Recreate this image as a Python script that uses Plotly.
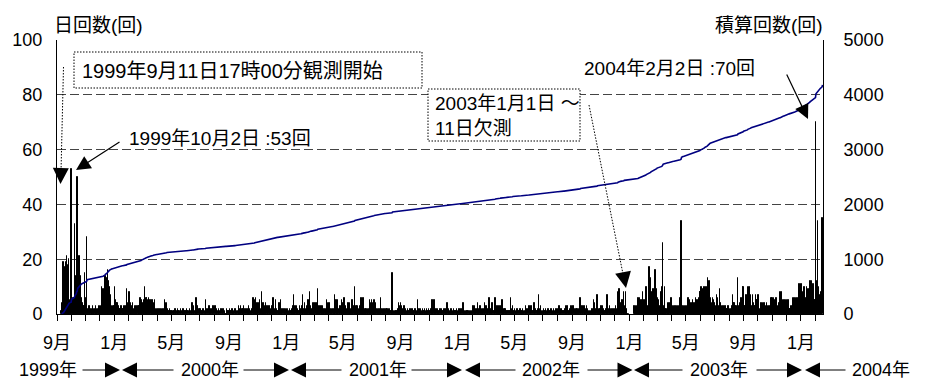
import pandas as pd
import numpy as np
import plotly.graph_objects as go

# ---------------- data: daily counts (回) ----------------
# 1999: starts 1999-09-11 (observation start)
cnt_1999 = [
    [1,4,3,2,19,12,17,9,14,19,15,21,11,18,8,20,6,4,5,3],                      # Sep 11-30
    [5,53,8,4,6,3,5,6,33,12,9,14,38,10,50,12,9,6,21,8,14,5,6,3,4,2,3,3,2,3,15],  # Oct
    [6,3,4,28,2,1,0,2,3,1,2,0,1,2,1,0,3,1,2,1,0,2,3,1,2,1,0,2,3,1],            # Nov
    [2,3,1,3,2,10,2,3,9,3,2,7,14,4,11,3,13,16,8,12,2,10,7,3,7,2,3,1,3,2,3],    # Dec
]
cnt_2000 = [
    [3,10,2,5,1,4,1,4,1,3,2,1,2,2,1,3,0,2,2,1,2,3,1,2,3,1,2,9,2,4,1],
    [5,8,2,3,1,4,2,1,3,4,1,2,0,3,2,1,3,1,2,0,3,1,2,3,1,6,2,5,3],
    [4,3,1,5,4,10,2,5,6,3,6,1,5,1,6,1,4,5,0,3,1,5,1,3,4,1,5,0,1,2,1],
    [2,1,1,2,1,1,0,2,1,1,2,1,1,0,2,1,1,5,2,4,3,4,1,2,1,0,1,2,1,1],
    [1,0,1,1,0,0,1,1,0,2,1,0,0,1,2,0,1,0,1,0,0,2,1,0,0,1,2,1,0,1,1],
    [1,0,0,2,1,0,1,0,0,2,1,0,0,1,4,0,1,3,0,1,0,0,2,6,1,3,0,1,0,2],
    [1,2,0,1,0,1,0,1,2,0,0,1,0,5,1,0,2,0,1,0,3,0,1,0,1,2,0,0,1,3,0],
    [2,0,3,0,1,0,2,0,0,1,2,0,0,1,0,2,0,0,1,2,0,0,0,1,0,0,0,2,1,0,1],
    [1,0,2,1,0,1,0,2,0,1,0,1,0,0,2,1,0,1,0,0,1,3,0,1,2,0,3,1,0,2],
    [2,0,3,1,0,2,0,1,0,2,1,0,3,1,0,2,0,1,0,1,2,0,6,1,3,5,2,6,1,4,2],
    [3,1,4,0,2,5,1,2,0,8,3,1,4,0,2,1,3,0,4,1,0,3,1,2,0,3,1,0,2,1],
    [2,0,3,1,6,1,0,2,1,5,0,2,1,0,1,2,4,0,1,2,5,0,1,2,0,1,0,2,1,0,2],
]
cnt_2001 = [
    [1,2,0,1,2,0,1,0,2,1,0,1,2,0,1,3,7,2,0,1,3,0,1,3,0,2,1,0,1,3,1],
    [1,2,0,3,7,1,2,0,1,4,0,2,1,3,0,1,5,0,2,8,1,3,2,0,1,2,4,1],
    [2,4,1,3,0,4,2,1,9,2,0,1,3,1,2,0,3,1,2,3,0,1,2,0,1,2,1,0,5,2,4],
    [3,1,4,0,2,1,0,2,1,0,2,1,0,7,1,2,0,5,2,3,5,1,0,2,1,3,0,1,2,5],
    [4,2,1,1,6,2,0,3,1,2,0,2,4,1,3,2,4,1,2,0,3,5,1,2,0,3,10,2,2,3,3],
    [2,1,3,0,2,1,3,0,1,6,2,4,1,6,2,0,1,2,0,1,2,0,1,2,1,0,2,5,3,4],
    [3,5,2,4,1,5,3,2,5,1,4,2,0,1,2,0,1,2,1,0,6,1,2,0,1,2,0,1,2,1,0],
    [1,2,0,2,1,0,2,1,0,2,1,0,1,2,15,1,0,1,0,1,0,1,1,0,1,0,1,2,4,1,3],
    [2,4,1,3,0,1,2,0,3,1,0,1,2,0,1,0,2,1,0,1,0,2,1,0,1,2,0,1,0,1],
    [1,0,2,1,0,1,0,5,1,0,2,1,0,1,2,0,1,0,2,1,0,1,2,0,1,0,2,1,0,1,0],
    [2,0,1,1,0,2,1,5,1,3,0,5,2,1,0,1,2,0,1,2,0,1,1,0,2,1,0,2,1,0],
    [1,0,2,1,0,2,1,0,1,4,0,1,2,0,1,0,1,2,0,1,0,1,0,2,1,0,1,0,1,2,0],
]
cnt_2002 = [
    [1,0,1,2,0,1,0,1,2,0,1,0,4,1,0,1,0,1,0,1,0,1,0,1,0,0,1,0,1,0,1],
    [0,1,3,0,2,1,3,0,1,2,0,1,4,0,1,2,0,3,1,0,2,1,0,1,2,0,1,4],
    [1,0,3,1,0,1,2,0,6,1,2,0,1,0,1,4,0,1,0,1,2,6,0,3,1,0,1,3,0,2,1],
    [1,3,0,1,0,5,1,0,1,2,0,2,1,0,1,0,1,0,1,0,1,0,1,6,0,2,1,3,0,1],
    [1,0,2,0,1,0,1,2,0,1,0,1,0,2,1,0,1,0,1,2,0,1,0,0,1,3,0,1,2,0,1],
    [0,3,1,0,2,1,3,0,1,0,1,0,4,1,2,0,1,0,1,2,0,1,7,0,2,1,3,0,1,0],
    [1,0,2,1,0,1,0,2,0,1,0,1,2,0,1,0,1,0,2,1,0,0,1,0,2,0,1,0,1,2,0],
    [1,0,2,0,3,1,0,1,0,2,0,1,0,1,0,1,0,2,3,0,1,3,0,1,0,1,0,2,0,3,1],
    [3,1,2,3,0,1,2,0,1,2,0,1,2,1,0,2,1,0,6,1,2,0,3,1,2,0,3,1,2,1],
    [2,0,3,1,2,0,1,0,1,0,1,0,1,2,0,1,0,5,1,4,0,1,2,0,7,1,0,2,1,0,2],
    [2,1,3,0,2,3,1,2,0,1,1,0,2,1,7,1,0,2,0,1,3,0,2,1,0,2,1,0,1,2],
    [1,0,3,1,0,2,1,8,0,2,9,1,4,0,1,2,5,0,1,2,8,1,3,0,8,2,1,0,0,0,0],
]
# 2003-01-01 ~ 01-11: missing observation (欠測)
cnt_2003 = [
    [None]*11 + [3,1,2,3,2,3,1,2,6,3,5,2,6,4,3,5,2,4,8,3],
    [2,5,1,3,2,10,3,6,2,1,3,1,17,3,2,13,4,2,8,3,9,2,4,1,3,16,1,4],
    [9,2,6,1,5,2,1,3,1,8,2,10,26,4,3,1,2,10,2,1,2,0,1,4,2,1,4,0,2,1,3],
    [6,2,1,3,2,3,1,2,3,1,2,3,1,3,2,1,3,2,1,6,4,34,10,3,2,1,3,2,3,1],
    [3,2,1,3,2,1,6,2,2,5,3,3,4,2,3,5,2,1,3,4,2,3,6,2,3,5,2,2,6,3,8],
    [8,3,10,5,2,2,3,9,3,10,2,7,2,10,3,6,13,5,8,12,4,8,3,6,2,4,3,6,2,5],
    [4,3,2,3,1,7,3,6,2,2,1,3,9,4,3,2,3,1,2,3,1,0,2,1,3,0,2,1,2,0,3],
    [2,1,2,0,1,2,1,3,7,2,3,4,4,2,2,3,3,1,2,13,3,2,2,4,3,3,2,6,3,3,10],
    [10,2,2,3,3,2,7,3,1,10,2,2,3,10,3,2,7,3,2,2,7,1,4,3,2,3,7,2,2,5],
    [5,2,7,3,1,2,0,3,4,1,2,4,1,3,2,4,1,2,3,1,4,2,3,1,2,3,1,2,0,6,3],
    [3,6,2,4,6,1,3,5,2,6,4,1,3,2,1,4,8,3,6,2,8,4,3,5,2,1,5,3,2,5],
    [3,5,2,4,1,5,3,2,1,2,3,2,1,3,6,2,4,6,3,5,2,6,4,1,6,3,2,5,11,4,8],
]
cnt_2004 = [
    [6,11,4,7,8,3,5,2,10,4,6,3,5,10,4,9,5,7,9,4,12,6,3,5,12,4,6,11,10,3,5],
    [5,70,12,8,6,34,9,6,10,7,4,6,5,8,12,35],                                   # Feb 1-16
]

# (year, first month, first day of first month, monthly lists)
year_blocks = [
    (1999, 9, 11, cnt_1999),
    (2000, 1, 1, cnt_2000),
    (2001, 1, 1, cnt_2001),
    (2002, 1, 1, cnt_2002),
    (2003, 1, 1, cnt_2003),
    (2004, 1, 1, cnt_2004),
]

x_tick_labels = ["9月", "1月", "5月"]
year_labels = ["1999年", "2000年", "2001年", "2002年", "2003年", "2004年"]

# ---------------- build series ----------------
dates, daily = [], []
for yr, m0, d0, months in year_blocks:
    for i, mv in enumerate(months):
        first = pd.Timestamp(year=yr, month=m0 + i, day=d0 if i == 0 else 1)
        for k, v in enumerate(mv):
            dates.append(first + pd.Timedelta(days=k))
            daily.append(v)

cumulative = np.cumsum([0 if v is None else v for v in daily])

x_start = pd.Timestamp("1999-09-01")
x_end = pd.Timestamp("2004-02-17")
tick_dates = list(pd.date_range(x_start, "2004-01-01", freq="4MS"))
tick_text = [x_tick_labels[i % 3] for i in range(len(tick_dates))]

FONT = "Liberation Sans, Arial, 'Noto Sans CJK JP', sans-serif"
W, H = 929, 381
PL, PR, PT, PB = 57, 823, 40, 314


def px(x):
    return (x - PL) / (PR - PL)


def py(y):
    return (PB - y) / (PB - PT)


fig = go.Figure()
fig.add_trace(go.Bar(
    x=dates, y=daily, marker=dict(color="black", line=dict(width=1.0, color="black")),
    width=86400000, showlegend=False, hoverinfo="skip",
))
fig.add_trace(go.Scatter(
    x=dates, y=cumulative, yaxis="y2", mode="lines",
    line=dict(color="#000080", width=1.6), showlegend=False, hoverinfo="skip",
))

annotations = []
shapes = []


def text(t, x, y, xanchor="left", size=19):
    annotations.append(dict(
        text=t, x=px(x), y=py(y), xref="paper", yref="paper",
        xanchor=xanchor, yanchor="middle", showarrow=False, align="left",
        font=dict(family=FONT, size=size, color="black"),
    ))


def arrow(tail, tip, width=1.0, size=2.5):
    annotations.append(dict(
        text="", x=px(tip[0]), y=py(tip[1]), xref="paper", yref="paper",
        ax=tail[0] - tip[0], ay=tail[1] - tip[1], showarrow=True,
        arrowhead=2, arrowsize=size, arrowwidth=width, arrowcolor="black",
        standoff=0,
    ))


def dotted_line(p0, p1):
    shapes.append(dict(
        type="line", xref="paper", yref="paper",
        x0=px(p0[0]), y0=py(p0[1]), x1=px(p1[0]), y1=py(p1[1]),
        line=dict(color="black", width=1, dash="1.5px,1.5px"),
    ))


def dotted_box(x0, y0, x1, y1):
    shapes.append(dict(
        type="rect", xref="paper", yref="paper",
        x0=px(x0), y0=py(y0), x1=px(x1), y1=py(y1),
        line=dict(color="black", width=1, dash="1.5px,1.5px"),
        fillcolor="white", layer="above",
    ))


# axis titles
text("日回数(回)", 98.5, 25, "center", 19)
text("積算回数(回)", 768.5, 25, "center", 19)

# observation start box + dotted arrow
dotted_box(74, 52, 422, 88)
text("1999年9月11日17時00分観測開始", 80, 71, "left", 20)
dotted_line((63.5, 67), (61, 172))
arrow((60.8, 170), (60.5, 184), 1.0, 3.2)

# 53 annotation
text("1999年10月2日 :53回", 127, 138)
arrow((121, 141), (76, 170), 1.2, 2.4)

# missing-data box + dotted arrow
dotted_box(428, 89, 580, 141)
text("2003年1月1日 ～<br>11日欠測", 433, 116.5)
dotted_line((589, 105), (623, 274))
arrow((623, 272), (626, 288), 1.0, 3.2)

# 70 annotation
text("2004年2月2日 :70回", 757, 68, "right")
arrow((786, 73), (808, 119), 1.2, 2.4)

# year row
yr_y = 370
yr_centers = [48, 210, 377.5, 551, 719, 881]
for lab, cx in zip(year_labels, yr_centers):
    text(lab, cx, yr_y, "center", 18)
for tail, tip in [(81, 120), (175, 122), (242, 289), (343, 291), (410, 462),
                  (517, 465), (586, 632.5), (684, 634), (755, 802), (847, 805)]:
    arrow((tail, yr_y), (tip, yr_y), 1.0, 3.0)

fig.update_layout(
    width=W, height=H,
    margin=dict(l=PL, r=W - PR, t=PT, b=H - PB),
    paper_bgcolor="white", plot_bgcolor="white",
    bargap=0, showlegend=False,
    font=dict(family=FONT, size=18, color="black"),
    xaxis=dict(
        type="date", range=[x_start, x_end],
        tickmode="array", tickvals=tick_dates, ticktext=tick_text,
        ticks="outside", ticklen=6, tickcolor="black", tickwidth=1,
        minor=dict(ticks="outside", ticklen=6, tickcolor="black", tickwidth=1,
                   dtick="M1", tick0="1999-09-01", showgrid=False),
        showline=True, linecolor="black", linewidth=1,
        showgrid=False, zeroline=False,
        tickfont=dict(size=18), ticklabelstandoff=6,
    ),
    yaxis=dict(
        range=[0, 100], tickmode="linear", tick0=0, dtick=20,
        showgrid=True, gridcolor="#444444", gridwidth=1, griddash="9px,4px",
        showline=True, linecolor="black", linewidth=1,
        ticks="", zeroline=False, tickfont=dict(size=18),
        ticklabelstandoff=10,
    ),
    yaxis2=dict(
        range=[0, 5000], tickmode="linear", tick0=0, dtick=1000,
        overlaying="y", side="right", showgrid=False,
        showline=True, linecolor="black", linewidth=1,
        ticks="", zeroline=False, tickfont=dict(size=18),
        ticklabelstandoff=16,
    ),
    annotations=annotations,
    shapes=shapes,
)

fig.write_html("out.html")
